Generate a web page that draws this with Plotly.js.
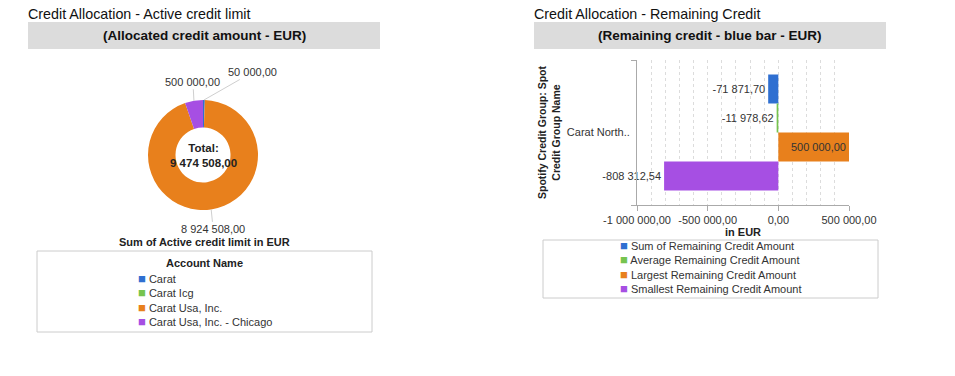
<!DOCTYPE html>
<html><head><meta charset="utf-8">
<script src="https://cdn.plot.ly/plotly-3.0.1.min.js"></script>
<style>html,body{margin:0;padding:0;background:#fff;} #chart{width:955px;height:376px;}</style>
</head><body><div id="chart"></div>
<script>
// ---- Data: left donut ----
const accountNames = ['Carat', 'Carat Icg', 'Carat Usa, Inc.', 'Carat Usa, Inc. - Chicago'];
const activeCredit = [50000, 0, 8924508, 500000];
const accountColors = ['#2f6fd1', '#76c44f', '#e8801c', '#a64fe3'];

// ---- Data: right bars ----
const creditGroups = ['Carat North..'];
const seriesNames = ['Sum of Remaining Credit Amount', 'Average Remaining Credit Amount', 'Largest Remaining Credit Amount', 'Smallest Remaining Credit Amount'];
const seriesValues = [-71871.70, -11978.62, 500000, -808312.54];
const seriesColors = ['#2f6fd1', '#76c44f', '#e8801c', '#a64fe3'];
const xTickVals = [-1000000, -500000, 0, 500000];

// ---- layout helpers (style only) ----
const W = 955, H = 376;
const px = x => x / W;
const py = y => 1 - y / H;
function fmt(v) {
  const parts = Math.abs(v).toFixed(2).split('.');
  const intPart = parts[0].replace(/\B(?=(\d{3})+(?!\d))/g, ' ');
  return (v < 0 ? '-' : '') + intPart + ',' + parts[1];
}
const FONT = 'Liberation Sans, Arial, sans-serif';
const total = activeCredit.reduce((a, b) => a + b, 0);

// donut geometry (pixels) and label leader offsets (pixels)
const pieCx = 203, pieCy = 155, pieR = 55;
const labelOffsets = [[49, -28], [0, 0], [2, 20], [-1, -19]];

const pieTrace = {
  type: 'pie',
  labels: accountNames,
  values: activeCredit,
  marker: {colors: accountColors, line: {width: 0}},
  sort: false,
  direction: 'clockwise',
  rotation: 0,
  hole: 0.5,
  textinfo: 'none',
  domain: {x: [px(pieCx - pieR), px(pieCx + pieR)], y: [py(pieCy + pieR), py(pieCy - pieR)]},
  showlegend: false,
  hoverinfo: 'label+value'
};

// leader-line labels placed at each slice's mid-angle
const pieLabelAnns = [];
let cum = 0;
activeCredit.forEach((v, i) => {
  const mid = (cum + v / 2) / total * 2 * Math.PI;
  cum += v;
  if (v <= 0) return;
  const hx = pieCx + pieR * Math.sin(mid);
  const hy = pieCy - pieR * Math.cos(mid);
  pieLabelAnns.push({
    text: fmt(v), xref: 'paper', yref: 'paper', x: px(hx), y: py(hy),
    ax: labelOffsets[i][0], ay: labelOffsets[i][1],
    showarrow: true, arrowhead: 0, arrowwidth: 1, arrowcolor: '#cfcfcf', standoff: 0, startstandoff: 0,
    font: {size: 11, color: '#333'}
  });
});

const barTraces = seriesNames.map((name, i) => ({
  type: 'bar',
  orientation: 'h',
  name: name,
  x: [seriesValues[i]],
  y: creditGroups,
  marker: {color: seriesColors[i]},
  text: [fmt(seriesValues[i])],
  textposition: i === 2 ? 'inside' : 'outside',
  insidetextanchor: 'end',
  textfont: {size: 11, color: '#333', family: FONT},
  constraintext: 'none',
  cliponaxis: false,
  xaxis: 'x', yaxis: 'y',
  showlegend: false
}));

function legendText(names, colors) {
  return names.map((n, i) => '<span style="color:' + colors[i] + ';font-size:13px">■</span> ' + n).join('<br>');
}

const layout = {
  width: W, height: H,
  margin: {l: 0, r: 0, t: 0, b: 0},
  paper_bgcolor: '#fff', plot_bgcolor: '#fff',
  font: {family: FONT, size: 11, color: '#333'},
  showlegend: false,
  bargap: 0.2, bargroupgap: 0,
  barmode: 'group',
  xaxis: {
    domain: [px(637), px(849)],
    range: [-1000000, 500000],
    tickmode: 'array', tickvals: xTickVals, ticktext: xTickVals.map(fmt),
    ticks: 'outside', ticklen: 5, tickcolor: '#aaa',
    showline: true, linecolor: '#aaa',
    showgrid: true, gridcolor: '#dcdcdc', griddash: 'dot',
    minor: {dtick: 100000, tick0: 0, showgrid: true, gridcolor: '#dcdcdc', griddash: 'dot'},
    zeroline: false,
    tickfont: {size: 11, color: '#333'},
    title: {text: '<b>in EUR</b>', font: {size: 11, color: '#222'}, standoff: 1},
    anchor: 'y', fixedrange: true
  },
  yaxis: {
    domain: [py(205), py(60)],
    type: 'category',
    autorange: 'reversed',
    showline: true, linecolor: '#aaa',
    ticks: 'outside', tickson: 'boundaries', ticklen: 5, tickcolor: '#aaa',
    ticklabelstandoff: 4,
    showgrid: false, zeroline: false,
    tickfont: {size: 11, color: '#333'},
    title: {text: '<b>Spotify Credit Group: Spot<br>Credit Group Name</b>', font: {size: 10.5, color: '#222'}, standoff: 4},
    anchor: 'x', fixedrange: true
  },
  shapes: [
    {type: 'rect', xref: 'paper', yref: 'paper', x0: px(28), x1: px(380), y0: py(49), y1: py(22), fillcolor: '#dcdcdc', line: {width: 0}, layer: 'below'},
    {type: 'rect', xref: 'paper', yref: 'paper', x0: px(534), x1: px(886), y0: py(49), y1: py(22), fillcolor: '#dcdcdc', line: {width: 0}, layer: 'below'},
    {type: 'rect', xref: 'paper', yref: 'paper', x0: px(37), x1: px(372), y0: py(332), y1: py(251), fillcolor: 'rgba(0,0,0,0)', line: {width: 1, color: '#cccccc'}},
    {type: 'rect', xref: 'paper', yref: 'paper', x0: px(543), x1: px(878), y0: py(298), y1: py(240), fillcolor: 'rgba(0,0,0,0)', line: {width: 1, color: '#cccccc'}}
  ],
  annotations: [
    {text: 'Credit Allocation - Active credit limit', xref: 'paper', yref: 'paper', x: px(26), y: py(14), xanchor: 'left', yanchor: 'middle', showarrow: false, font: {size: 14.3, color: '#111'}},
    {text: 'Credit Allocation - Remaining Credit', xref: 'paper', yref: 'paper', x: px(532), y: py(14), xanchor: 'left', yanchor: 'middle', showarrow: false, font: {size: 14.3, color: '#111'}},
    {text: '<b>(Allocated credit amount - EUR)</b>', xref: 'paper', yref: 'paper', x: px(204), y: py(36), xanchor: 'center', yanchor: 'middle', showarrow: false, font: {size: 13.5, color: '#111'}},
    {text: '<b>(Remaining credit - blue bar - EUR)</b>', xref: 'paper', yref: 'paper', x: px(710), y: py(36), xanchor: 'center', yanchor: 'middle', showarrow: false, font: {size: 13.5, color: '#111'}},
    {text: '<b>Total:<br>' + fmt(total) + '</b>', xref: 'paper', yref: 'paper', x: px(pieCx), y: py(pieCy), xanchor: 'center', yanchor: 'middle', showarrow: false, font: {size: 11.5, color: '#222'}},
    {text: '<b>Sum of Active credit limit in EUR</b>', xref: 'paper', yref: 'paper', x: px(204), y: py(242), xanchor: 'center', yanchor: 'middle', showarrow: false, font: {size: 11, color: '#222'}},
    {text: '<b>Account Name</b>', xref: 'paper', yref: 'paper', x: px(204), y: py(263), xanchor: 'center', yanchor: 'middle', showarrow: false, font: {size: 11, color: '#222'}},
    {text: legendText(accountNames, accountColors), xref: 'paper', yref: 'paper', x: px(136), y: py(300), xanchor: 'left', yanchor: 'middle', align: 'left', showarrow: false, font: {size: 11, color: '#333'}},
    {text: legendText(seriesNames, seriesColors), xref: 'paper', yref: 'paper', x: px(618), y: py(267), xanchor: 'left', yanchor: 'middle', align: 'left', showarrow: false, font: {size: 11, color: '#333'}}
  ].concat(pieLabelAnns)
};

Plotly.newPlot('chart', [pieTrace].concat(barTraces), layout, {displayModeBar: false, staticPlot: true});
</script>
</body></html>
